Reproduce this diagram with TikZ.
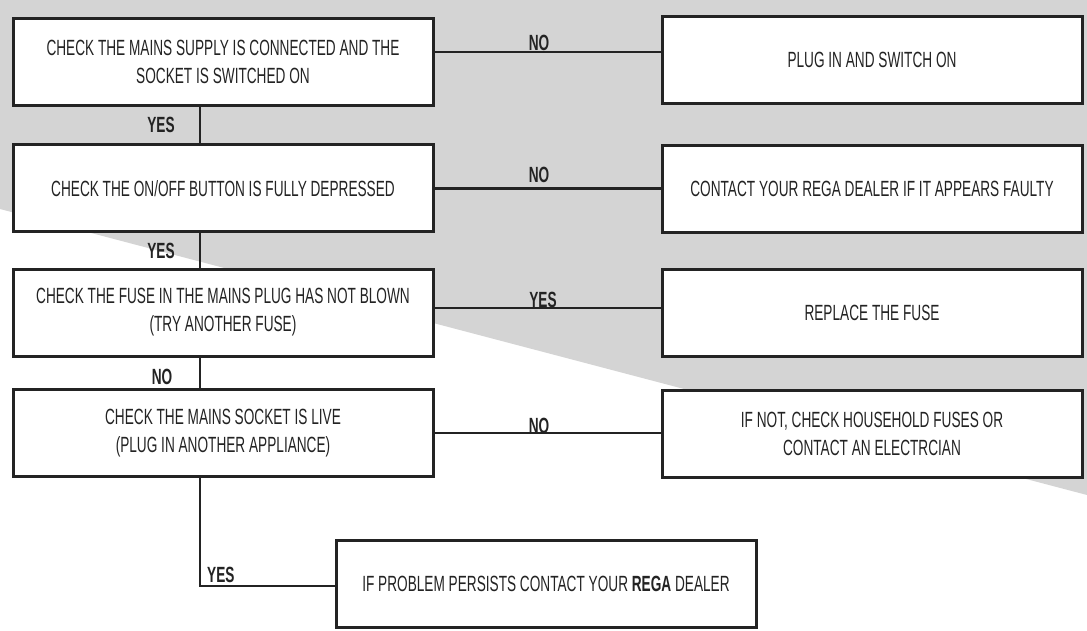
\documentclass[tikz,border=0pt]{standalone}
\usepackage{fontspec}
\setmainfont{Liberation Sans}[FakeStretch=0.62]
\usetikzlibrary{calc}
\definecolor{bggray}{RGB}{212,212,212}
\definecolor{ink}{RGB}{35,35,35}
\tikzset{
  box/.style={draw=ink, line width=3pt, fill=white, minimum width=420pt, minimum height=87pt,
    inner sep=0pt, align=center, font=\fontsize{22}{28}\selectfont, text=ink},
  conn/.style={draw=ink, line width=1.8pt},
  lbl/.style={font=\bfseries\fontsize{22}{22}\selectfont, text=ink, inner sep=0pt},
}
\begin{document}
\begin{tikzpicture}[x=1pt,y=-1pt]
\useasboundingbox (0,0) rectangle (1087,631);
\fill[white] (0,0) rectangle (1087,631);
\fill[bggray] (0,0) -- (1087,0) -- (1087,495) -- (0,209) -- cycle;

% left column
\node[box] (L1) at (223,62) {CHECK THE MAINS SUPPLY IS CONNECTED AND THE\\SOCKET IS SWITCHED ON};
\node[box] (L2) at (223,188.5) {CHECK THE ON/OFF BUTTON IS FULLY DEPRESSED};
\node[box] (L3) at (223,312.5) {CHECK THE FUSE IN THE MAINS PLUG HAS NOT BLOWN\\(TRY ANOTHER FUSE)};
\node[box] (L4) at (223,433) {CHECK THE MAINS SOCKET IS LIVE\\(PLUG IN ANOTHER APPLIANCE)};
% right column
\node[box] (R1) at (872,60) {PLUG IN AND SWITCH ON};
\node[box] (R2) at (872,189) {CONTACT YOUR REGA DEALER IF IT APPEARS FAULTY};
\node[box] (R3) at (872,312.5) {REPLACE THE FUSE};
\node[box] (R4) at (872,433.5) {IF NOT, CHECK HOUSEHOLD FUSES OR\\CONTACT AN ELECTRCIAN};
% bottom
\node[box] (B) at (546,584) {IF PROBLEM PERSISTS CONTACT YOUR \textbf{REGA} DEALER};

% horizontal connectors
\draw[conn] ([yshift=10pt]L1.east) -- ([yshift=10pt]L1.east -| R1.west);
\draw[conn, line width=2.6pt] (L2.east) -- (L2.east -| R2.west);
\draw[conn] ([yshift=4.5pt]L3.east) -- ([yshift=4.5pt]L3.east -| R3.west);
\draw[conn] (L4.east) -- (L4.east -| R4.west);
% vertical connectors
\draw[conn] ([xshift=-23pt]L1.south) -- ([xshift=-23pt]L2.north);
\draw[conn] ([xshift=-23pt]L2.south) -- ([xshift=-23pt]L3.north);
\draw[conn] ([xshift=-23pt]L3.south) -- ([xshift=-23pt]L4.north);
\draw[conn] ([xshift=-23pt]L4.south) |- ([yshift=-2pt]B.west);

% labels
\node[lbl] (y1) at (161,125) {YES};
\node[lbl] (y2) at (161,251) {YES};
\node[lbl] (n3) at (162,377) {NO};
\node[lbl, anchor=base] (n1) at (539,51) {NO};
\node[lbl, anchor=base] (n2) at (539,183) {NO};
\node[lbl, anchor=base] (y3) at (543,307) {YES};
\node[lbl, anchor=base] (n4) at (539,433) {NO};
\node[lbl, anchor=base west] (y4) at (207,582) {YES};
\end{tikzpicture}
\end{document}
